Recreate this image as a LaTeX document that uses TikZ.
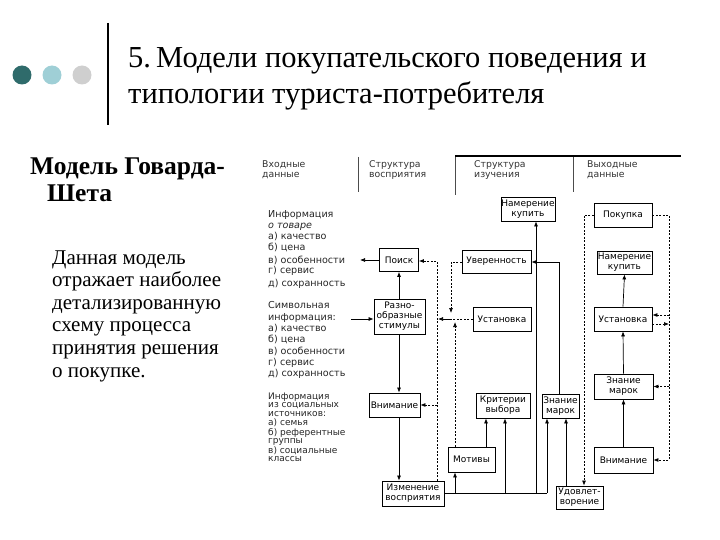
\documentclass[tikz,border=0pt]{standalone}
\usepackage{fontspec}
\setmainfont{Liberation Serif}
\newfontfamily\dia{DejaVu Sans}
\usetikzlibrary{arrows.meta}
\definecolor{dotA}{HTML}{2F6B6B}
\definecolor{dotB}{HTML}{9FCFD6}
\definecolor{dotC}{HTML}{CFCFCF}
\begin{document}
\begin{tikzpicture}[x=1pt,y=-1pt,
 box/.style={draw, line width=0.8pt, font=\dia\fontsize{9}{10}\selectfont, align=center, inner sep=0.5pt, fill=white},
 arr/.style={-{Latex[length=5pt,width=4pt]}, line width=0.7pt},
 ln/.style={line width=0.7pt},
 dsh/.style={line width=0.7pt, dash pattern=on 2pt off 1.5pt},
 lbl/.style={font=\dia\fontsize{9.6}{10}\selectfont, anchor=base west, inner sep=0pt, text=black!85},
 lbs/.style={font=\dia\fontsize{9}{9}\selectfont, anchor=base west, inner sep=0pt, text=black!85},
 hdr/.style={font=\dia\fontsize{9.3}{10}\selectfont, anchor=base west, inner sep=0pt, text=black!80},
 sep/.style={line width=0.9pt, black!70},
]
\useasboundingbox (0,0) rectangle (720,540);
% decorative dots and bar
\fill[dotA] (22,75) circle (9.5);
\fill[dotB] (52,75) circle (9.5);
\fill[dotC] (82,75) circle (9.5);
\draw[line width=2.5pt] (108,23) -- (108,125);
% title
\node[anchor=base west, inner sep=0pt, font=\fontsize{30.5}{34}\selectfont] (t1) at (128,68) {5.\,Модели покупательского поведения и};
\node[anchor=base west, inner sep=0pt, font=\fontsize{30.5}{34}\selectfont] (t2) at (128,104) {типологии туриста-потребителя};
% left text
\node[anchor=base west, inner sep=0pt, font=\bfseries\fontsize{25.5}{28}\selectfont] (h1) at (30,175) {Модель Говарда-};
\node[anchor=base west, inner sep=0pt, font=\bfseries\fontsize{25.5}{28}\selectfont] (h2) at (47,202) {Шета};
\foreach \yy/\txt [count=\i] in {264/Данная модель, 286.6/отражает наиболее, 309.2/детализированную, 331.8/схему процесса, 354.4/принятия решения, 377/о покупке.}
  \node[anchor=base west, inner sep=0pt, font=\fontsize{21}{23}\selectfont] (b\i) at (52,\yy) {\txt};
% headers
\node[hdr] (hA1) at (262,168) {Входные};
\node[hdr] (hA2) at (262,177.5) {данные};
\node[hdr] (hB1) at (369,168) {Структура};
\node[hdr] (hB2) at (369,177.5) {восприятия};
\node[hdr] (hC1) at (474,168) {Структура};
\node[hdr] (hC2) at (474,177.5) {изучения};
\node[hdr] (hD1) at (587,168) {Выходные};
\node[hdr] (hD2) at (587,177.5) {данные};
\draw[sep] (358,157) -- (358,192);
\draw[sep] (455,157) -- (455,195);
\draw[sep] (573,157) -- (573,192);
\draw[line width=1.3pt] (455,156) -- (681,156);
% input lists
\foreach \yy/\txt [count=\i] in {218/Информация, 229/{\itshape о товаре}, 240/а) качество, 251/б) цена, 263/в) особенности, 273/г) сервис, 286/д) сохранность, 308/Символьная, 320/информация:, 331/а) качество, 342/б) цена, 354/в) особенности, 365/г) сервис, 376/д) сохранность}
  \node[lbl] (la\i) at (268,\yy) {\txt};
\foreach \yy/\txt [count=\i] in {399/Информация, 407.5/из социальных, 416.5/источников:, 425.5/а) семья, 435/б) референтные, 443.5/группы, 453/в) социальные, 461.5/классы}
  \node[lbs] (lc\i) at (268,\yy) {\txt};
% boxes
\node[box, minimum width=39, minimum height=23] (poisk) at (399,260) {Поиск};
\node[box, minimum width=51, minimum height=35] (stim) at (399.5,316.5) {Разно-\\образные\\стимулы};
\node[box, minimum width=51, minimum height=24] (vnimA) at (394.5,405) {Внимание};
\node[box, minimum width=62, minimum height=25] (izm) at (413,493.5) {Изменение\\восприятия};
\node[box, minimum width=69, minimum height=23] (uver) at (496.5,261.5) {Уверенность};
\node[box, minimum width=58, minimum height=24] (ustA) at (502,319) {Установка};
\node[box, minimum width=54, minimum height=24] (namA) at (528,209) {Намерение\\купить};
\node[box, minimum width=54, minimum height=25] (krit) at (503,405.5) {Критерии\\выбора};
\node[box, minimum width=37, minimum height=24] (znA) at (560.5,406) {Знание\\марок};
\node[box, minimum width=47, minimum height=25] (motiv) at (471.5,459.5) {Мотивы};
\node[box, minimum width=47, minimum height=23] (udov) at (579.5,497.5) {Удовлет-\\ворение};
\node[box, minimum width=58, minimum height=24] (pok) at (623,215) {Покупка};
\node[box, minimum width=55, minimum height=23] (namB) at (624.5,262.5) {Намерение\\купить};
\node[box, minimum width=58, minimum height=24] (ustB) at (623,319) {Установка};
\node[box, minimum width=59, minimum height=25] (znB) at (623.5,386.5) {Знание\\марок};
\node[box, minimum width=59, minimum height=26] (vnimB) at (623.5,460) {Внимание};
% helper coordinates
\coordinate (pl) at (360,260);
\coordinate (sl) at (351,319);
\coordinate (vx) at (399,0);
\coordinate (fb) at (437,261);
\coordinate (jA) at (451,262);
\coordinate (jB) at (451,313);
\coordinate (jC) at (455,322);
\coordinate (jL) at (438,319);
\coordinate (jR) at (451,319);
\coordinate (bl) at (547,493);
\coordinate (kx) at (505,493);
\coordinate (mx) at (486,0);
\coordinate (nx) at (536,493);
\coordinate (ux) at (566,0);
\coordinate (vL) at (584,215);
\coordinate (vR) at (669,215);
\coordinate (zt) at (559,262);
\coordinate (uA) at (669,315);
\coordinate (uB) at (669,324);
% left-column connectors
\draw[arr] (poisk.west) -- (pl);
\draw[arr] (sl) -- (stim.west |- sl);
\draw[arr] (stim.north -| vx) -- (poisk.south -| vx);
\draw[arr] (stim.south -| vx) -- (vnimA.north -| vx);
\draw[arr] (vnimA.south -| vx) -- (izm.north -| vx);
% feedback dashed from Изменение
\draw[dsh,arr] (izm.north -| fb) -- (fb) -- (poisk.east |- fb);
\draw[dsh,arr] (vnimA.east -| fb) -- (vnimA.east);
% junction into stimuli
\draw[dsh,arr] (uver.west |- jA) -- (jA) -- (jB);
\draw[dsh] (ustA.west) -- (jR);
\draw[dsh,arr] (motiv.north -| jC) -- (jC);
\draw[arr] (jR) -- (jL);
% bottom solid bus
\draw[ln] (izm.east |- bl) -- (bl);
\draw[arr] (jC |- bl) -- (jC |- motiv.south);
\draw[arr] (kx) -- (krit.south -| kx);
\draw[arr] (motiv.north -| mx) -- (krit.south -| mx);
\draw[arr] (bl) -- (bl |- znA.south);
\draw[arr] (nx) -- (namA.south -| nx);
\draw[arr] (udov.north -| ux) -- (znA.south -| ux);
\draw[arr] (znA.north -| zt) -- (zt) -- (uver.east |- zt);
% output dashed loop
\draw[dsh,arr] (pok.west) -- (vL) -- (udov.north -| vL);
\draw[dsh,arr] (pok.east) -- (vR) -- (vR |- vnimB.east) -- (vnimB.east);
\draw[dsh,arr] (vR |- znB.east) -- (znB.east);
\draw[dsh,arr] (uA) -- (ustB.east |- uA);
\draw[dsh,arr] (ustB.east |- uB) -- (uB);
% output solid chain
\draw[arr] (vnimB.north) -- (znB.south);
\draw[arr] (znB.north) -- (ustB.south);
\draw[arr] (ustB.north) -- (namB.south);
\end{tikzpicture}
\end{document}
